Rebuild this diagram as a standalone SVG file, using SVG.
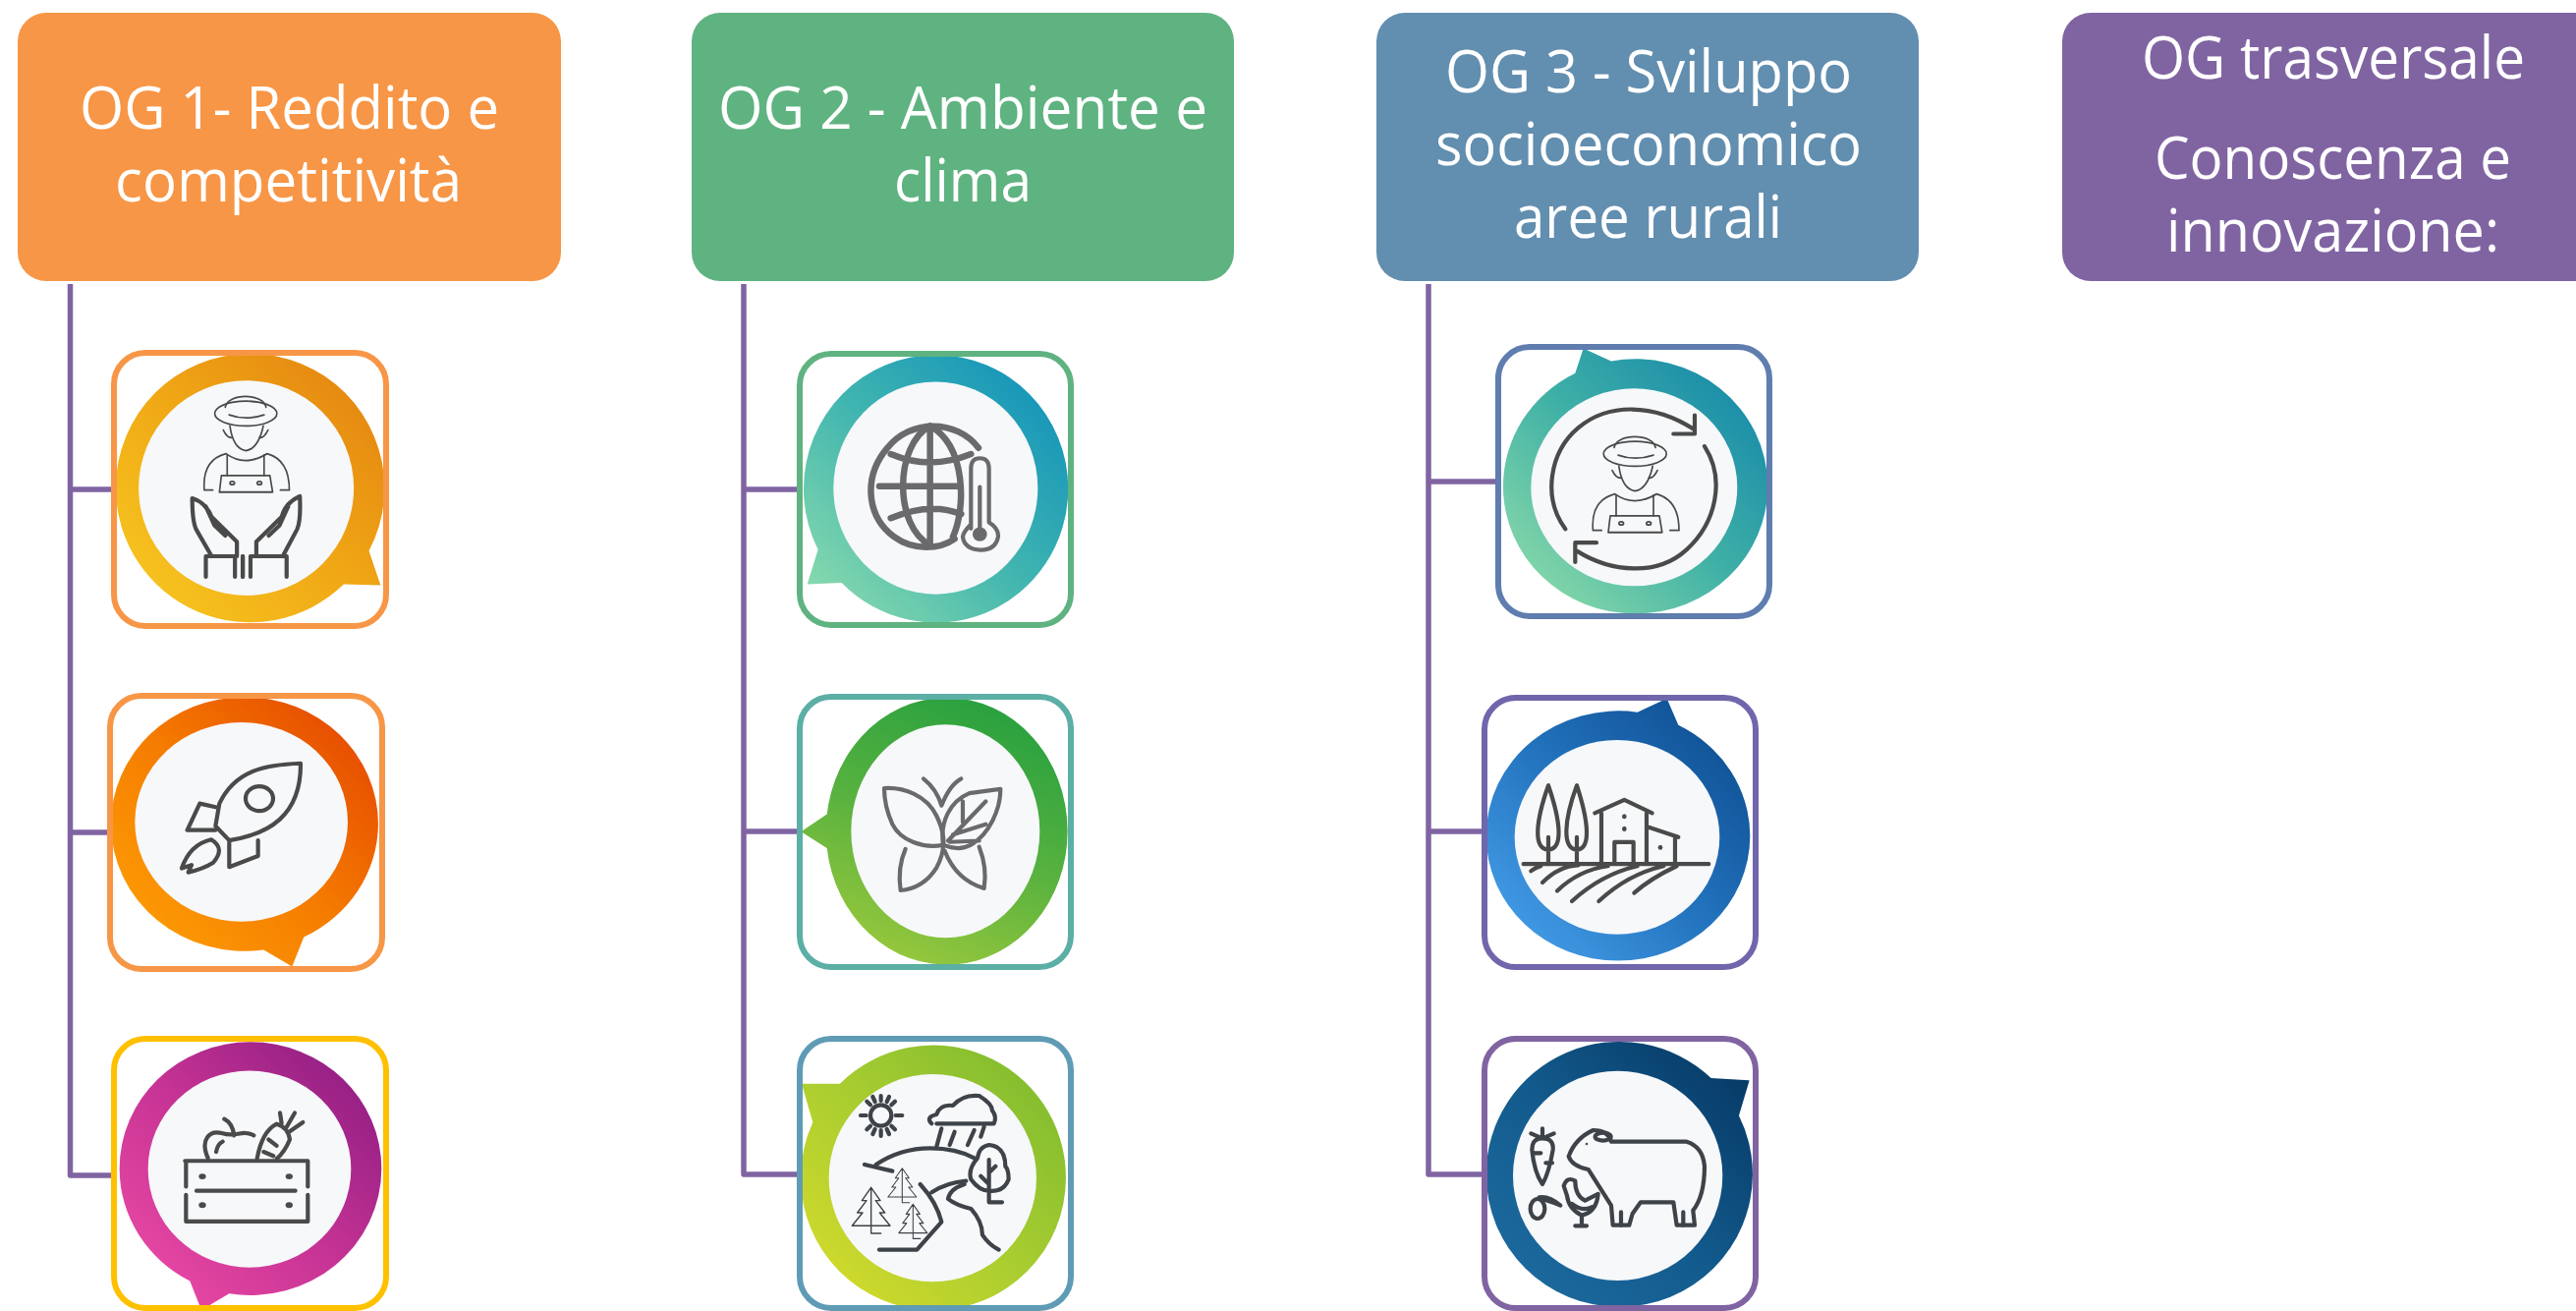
<svg xmlns="http://www.w3.org/2000/svg" width="2622" height="1334" viewBox="0 0 2622 1334">
<style>
.hd{font-family:"Open Sans","Noto Sans","Liberation Sans",sans-serif;font-size:60px;fill:#fff;font-weight:400}
.card{fill:#fff;stroke:none}
.frame{fill:none;stroke-width:6}
.in{fill:#f7f8fa}
.ic *{fill:none;stroke:#4a4a4a;stroke-width:4.2;stroke-linecap:round;stroke-linejoin:round;vector-effect:non-scaling-stroke}
.ic .d{fill:#4a4a4a;stroke:none}
.globe *{stroke:#6a6a6c;stroke-width:6.5}
.globe .thin{stroke-width:4.2}
.dark *{stroke:#3d4348}
.ic .g{stroke:#6a6a6c}
#connectors path{fill:none;stroke:#8064a2;stroke-width:5.5;stroke-linejoin:round}
</style>
<defs>
<linearGradient id="g1" x1="0" y1="1" x2="1" y2="0"><stop offset="0" stop-color="#f8cb22"/><stop offset=".5" stop-color="#f0a815"/><stop offset="1" stop-color="#e27f10"/></linearGradient>
<linearGradient id="g2" x1="0" y1="1" x2="1" y2="0"><stop offset="0" stop-color="#ffa506"/><stop offset=".5" stop-color="#f57c00"/><stop offset="1" stop-color="#e23f00"/></linearGradient>
<linearGradient id="g3" x1="0" y1="1" x2="1" y2="0"><stop offset="0" stop-color="#f24ea8"/><stop offset=".5" stop-color="#c63394"/><stop offset="1" stop-color="#861a80"/></linearGradient>
<linearGradient id="g4" x1="0" y1="1" x2="1" y2="0"><stop offset="0" stop-color="#93e0ac"/><stop offset=".5" stop-color="#3fb4b0"/><stop offset="1" stop-color="#0a8cbd"/></linearGradient>
<linearGradient id="g5" x1=".3" y1="1" x2=".7" y2="0"><stop offset="0" stop-color="#9cc93c"/><stop offset=".5" stop-color="#58b23f"/><stop offset="1" stop-color="#27a03f"/></linearGradient>
<linearGradient id="g6" x1="0" y1="1" x2="1" y2="0"><stop offset="0" stop-color="#dcdd2a"/><stop offset=".5" stop-color="#a8cd30"/><stop offset="1" stop-color="#78b82f"/></linearGradient>
<linearGradient id="g7" x1="0" y1="1" x2="1" y2="0"><stop offset="0" stop-color="#98e2aa"/><stop offset=".5" stop-color="#3fb0a6"/><stop offset="1" stop-color="#0d80ab"/></linearGradient>
<linearGradient id="g8" x1="0" y1="1" x2="1" y2="0"><stop offset="0" stop-color="#4ca6f0"/><stop offset=".5" stop-color="#2272bd"/><stop offset="1" stop-color="#0a4788"/></linearGradient>
<linearGradient id="g9" x1="0" y1="1" x2="1" y2="0"><stop offset="0" stop-color="#1f6ea3"/><stop offset=".5" stop-color="#125a8c"/><stop offset="1" stop-color="#053560"/></linearGradient>
<g id="farmer">
<path d="M580,985C585,950 680,950 685,985"/>
<ellipse cx="633" cy="1000" rx="80" ry="30"/>
<path d="M590,1003Q633,1018 680,1003"/>
<path d="M592,1030Q600,1085 633,1090Q665,1085 678,1030"/>
<path d="M575,1040Q585,1060 598,1058M690,1040Q680,1060 668,1058"/>
<path d="M526,1185Q520,1112 582,1097Q630,1130 688,1097Q745,1112 745,1185M526,1185H548M722,1185H745"/>
<path d="M585,1100V1150M680,1100V1150"/>
<path d="M565,1190L570,1150H695L702,1190Z"/>
<ellipse class="d" cx="598" cy="1168" rx="6" ry="4"/><ellipse class="d" cx="668" cy="1168" rx="6" ry="4"/>
</g>
<path id="pine" d="M0,-65L-28,-25H-14L-42,12H-26L-58,52H58L26,12H42L14,-25H28ZM0,-65V52M0,52V75H30"/>
</defs>

<g id="connectors">
<path d="M71.5,289V1196H113M71.5,498H113M71.5,847H109"/>
<path d="M757,289V1195H811M757,498H811M757,846H811"/>
<path d="M1454,289V1195H1508M1454,490H1522M1454,846H1508"/>
</g>

<g id="og1"><rect x="18" y="13" width="553" height="273" rx="29" fill="#f79646"/>
<text class="hd" x="81" y="131" textLength="427" lengthAdjust="spacingAndGlyphs">OG 1- Reddito e</text>
<text class="hd" x="117" y="205" textLength="353" lengthAdjust="spacingAndGlyphs">competitività</text></g>
<g id="og2"><rect x="704" y="13" width="552" height="273" rx="29" fill="#5fb380"/>
<text class="hd" x="731" y="131" textLength="498" lengthAdjust="spacingAndGlyphs">OG 2 - Ambiente e</text>
<text class="hd" x="910" y="205" textLength="140" lengthAdjust="spacingAndGlyphs">clima</text></g>
<g id="og3"><rect x="1401" y="13" width="552" height="273" rx="29" fill="#628eaf"/>
<text class="hd" x="1471" y="94" textLength="414" lengthAdjust="spacingAndGlyphs">OG 3 - Sviluppo</text>
<text class="hd" x="1461" y="168" textLength="434" lengthAdjust="spacingAndGlyphs">socioeconomico</text>
<text class="hd" x="1541" y="242" textLength="273" lengthAdjust="spacingAndGlyphs">aree rurali</text></g>
<g id="ogt"><rect x="2099" y="13" width="560" height="273" rx="29" fill="#8064a2"/>
<text class="hd" x="2180" y="80" textLength="390" lengthAdjust="spacingAndGlyphs">OG trasversale</text>
<text class="hd" x="2193" y="182" textLength="363" lengthAdjust="spacingAndGlyphs">Conoscenza e</text>
<text class="hd" x="2205" y="256" textLength="339" lengthAdjust="spacingAndGlyphs">innovazione:</text></g>

<g id="n1"><rect class="card" x="116" y="359" width="277" height="278" rx="32"/>
<g transform="scale(.3953,.4208)">
<path fill="url(#g1)" d="M885,1413A346,325 0 0 1 298,1180A346,325 0 0 1 990,1180A346,325 0 0 1 950,1332L980,1415Z"/><ellipse class="in" cx="634" cy="1180" rx="277" ry="260"/>
<g class="ic"><use href="#farmer"/>
<path d="M530,1395V1345H605V1395M625,1395V1345M545,1345L505,1280Q495,1260 495,1205Q530,1215 545,1250L610,1310V1345M530,1225L552,1270L580,1295"/>
<path d="M738,1395V1345H645V1395M625,1395V1345M728,1345L765,1280Q775,1260 772,1200Q735,1215 725,1250L660,1310V1345M742,1225L720,1270L692,1295"/></g></g>
<rect class="frame" stroke="#f79646" x="116" y="359" width="277" height="278" rx="32"/></g>

<g id="n2"><rect class="card" x="112" y="708" width="277" height="278" rx="32"/>
<g transform="translate(60,680) scale(.3333,.417)">
<path fill="url(#g2)" d="M625,687A408,310 0 0 1 159,380A408,310 0 0 1 975,380A408,310 0 0 1 748,656L712,728Z"/><ellipse class="in" cx="557" cy="375" rx="325" ry="243"/>
<g class="ic"><path d="M738,232C640,235 540,245 490,330L478,385L520,420C640,405 740,360 738,232Z"/><ellipse cx="612" cy="318" rx="42" ry="30"/>
<path d="M485,340L430,330L392,395H478M520,425V485L608,458V420M375,488Q400,430 465,418Q510,440 470,475Q440,490 395,498L405,480Z"/></g></g>
<rect class="frame" stroke="#f79646" x="112" y="708" width="277" height="278" rx="32"/></g>

<g id="n3"><rect class="card" x="116" y="1057" width="277" height="274" rx="32"/>
<g transform="translate(60,680) scale(.3333,.417)">
<path fill="url(#g3)" d="M520,1526A400,309 0 0 0 985,1221A400,309 0 0 0 185,1221A400,309 0 0 0 400,1495L435,1566Z"/><ellipse class="in" cx="582" cy="1222" rx="310" ry="240"/>
<g class="ic"><path d="M385,1202H760M388,1202V1265M388,1285V1350H760V1285M760,1265V1202M420,1275H722"/>
<ellipse class="d" cx="438" cy="1240" rx="11" ry="7"/><ellipse class="d" cx="703" cy="1240" rx="11" ry="7"/><ellipse class="d" cx="438" cy="1310" rx="11" ry="7"/><ellipse class="d" cx="703" cy="1310" rx="11" ry="7"/>
<path d="M455,1195C430,1150 460,1125 500,1135C540,1145 560,1125 595,1140M505,1100Q530,1110 535,1140M480,1180Q485,1160 500,1155"/>
<path d="M605,1197Q620,1130 665,1112Q700,1120 705,1150Q690,1180 665,1197M680,1110L675,1085M695,1120L720,1085M705,1130L745,1108M640,1150L665,1165M625,1180L655,1190"/></g></g>
<rect class="frame" stroke="#ffc000" x="116" y="1057" width="277" height="274" rx="32"/></g>

<g id="n4"><rect class="card" x="814" y="360" width="276" height="276" rx="32"/>
<g transform="translate(740,340) scale(.3333,.4208)">
<path fill="url(#g4)" d="M350,601A404,324 0 0 0 1042,374A404,324 0 0 0 234,374A404,324 0 0 0 278,521L245,605Z"/><ellipse class="in" cx="637" cy="372" rx="312" ry="257"/>
<g class="ic globe"><path d="M768,275C700,205 560,205 490,275C415,345 425,440 510,490C570,525 650,520 695,495"/>
<path d="M620,222V510M465,368H705M500,290Q620,330 745,290M500,445Q620,405 715,435M620,222C510,270 510,465 620,510M620,222C730,270 730,420 690,490"/>
<path class="thin" d="M745,470V325Q745,300 772,300Q800,300 800,325V455Q830,470 828,490Q820,522 775,522Q725,520 720,490Q722,478 745,460"/>
<path class="thin" d="M772,370V470"/><ellipse class="d" cx="772" cy="484" rx="22" ry="17" style="fill:#6a6a6c"/></g></g>
<rect class="frame" stroke="#5fb380" x="814" y="360" width="276" height="276" rx="32"/></g>

<g id="n5"><rect class="card" x="814" y="709" width="276" height="275" rx="32"/>
<g transform="translate(740,340) scale(.3333,.4208)">
<path fill="url(#g5)" d="M305,1243A369,323 0 0 0 1040,1202A369,323 0 0 0 302,1202A369,323 0 0 0 305,1161L226,1203Z"/><ellipse class="in" cx="667" cy="1202" rx="288" ry="258"/>
<g class="ic"><path class="g" d="M660,1235C600,1245 530,1225 505,1185C485,1150 480,1120 480,1098C540,1095 610,1115 640,1165C665,1205 662,1235 660,1235Z"/>
<path class="g" d="M660,1235C650,1180 680,1130 740,1110L835,1100C835,1150 800,1210 745,1235C710,1250 675,1240 660,1235ZM675,1225L790,1130M720,1180V1130M690,1210L790,1185M680,1228L770,1225"/>
<path class="g" d="M545,1245Q520,1290 530,1345Q600,1340 640,1290Q660,1260 660,1235M665,1250Q700,1320 785,1340Q795,1290 770,1240"/>
<path class="g" d="M600,1075Q640,1100 655,1140Q680,1090 715,1075"/></g></g>
<rect class="frame" stroke="#5bafa5" x="814" y="709" width="276" height="275" rx="32"/></g>

<g id="n6"><rect class="card" x="814" y="1057" width="276" height="274" rx="32"/>
<g transform="translate(740,1030) scale(.3333)">
<path fill="url(#g6)" d="M345,218A405,405 0 0 1 1035,505A405,405 0 0 1 225,505A405,405 0 0 1 262,336L228,218Z"/><circle class="in" cx="628" cy="506" r="317"/>
<g class="ic dark"><circle cx="470" cy="315" r="32"/>
<path d="M470,255V270M470,360V378M408,315H425M515,315H535M427,272L438,283M502,347L513,358M513,272L502,283M438,347L427,358M445,258L452,273M495,258L488,273M445,372L452,357M495,372L488,357"/>
<path d="M625,340Q605,320 640,312Q650,280 690,285Q720,250 770,255Q810,280 810,300Q825,320 815,340H640M640,410L655,355M680,405L695,365M735,405L755,360M775,380L785,350"/>
<path d="M420,465L505,485M455,465Q530,415 620,415Q700,415 755,445"/>
<path d="M800,405Q770,410 765,445Q735,480 745,510Q770,545 800,545Q845,550 860,510Q860,480 850,470Q850,410 800,405ZM800,450V580H840M800,490L820,470M800,525L775,500"/>
<use href="#pine" transform="translate(440,600)"/><use href="#pine" transform="translate(535,525) scale(.75)"/><use href="#pine" transform="translate(568,635) scale(.75)"/>
<path d="M725,525Q680,540 675,570Q700,590 745,600Q780,640 780,680Q800,710 830,725M465,725H580L655,640Q640,580 590,525M625,550Q670,520 730,515"/></g></g>
<rect class="frame" stroke="#5f9bb5" x="814" y="1057" width="276" height="274" rx="32"/></g>

<g id="n7"><rect class="card" x="1525" y="353" width="276" height="274" rx="32"/>
<g transform="translate(1440,330) scale(.3333,.4208)">
<path fill="url(#g7)" d="M600,89A404,308 0 0 1 1078,392A404,308 0 0 1 270,392A404,308 0 0 1 490,118L515,58Z"/><ellipse class="in" cx="670" cy="394" rx="315" ry="239"/>
<g class="ic"><path d="M885,295C950,375 920,480 830,545C740,610 600,600 495,548M460,495C390,420 410,310 500,250C590,190 730,190 855,255M790,265H855V220M490,575V528H555"/></g></g>
<g class="ic"><use href="#farmer" transform="translate(1411,41) scale(.4,.4208)"/></g>
<rect class="frame" stroke="#5f7dae" x="1525" y="353" width="276" height="274" rx="32"/></g>

<g id="n8"><rect class="card" x="1511" y="710" width="276" height="274" rx="32"/>
<g transform="translate(1440,330) scale(.3333,.4208)">
<path fill="url(#g8)" d="M805,969A403,302 0 0 1 1024,1237A403,302 0 0 1 218,1237A403,302 0 0 1 680,938L770,905Z"/><ellipse class="in" cx="618" cy="1240" rx="313" ry="235"/>
<g class="ic"><path d="M332,1305H898M355,1322Q365,1315 385,1310M390,1350Q440,1310 500,1308M435,1370Q500,1320 590,1310M480,1395Q570,1330 680,1310M562,1395Q650,1330 760,1310M670,1375Q720,1340 800,1310"/>
<path d="M408,1115C370,1200 360,1270 408,1270C455,1270 445,1200 408,1115ZM408,1240V1305M495,1115C455,1200 450,1270 495,1270C540,1270 530,1200 495,1115ZM495,1240V1305"/>
<path d="M550,1182L640,1150L725,1182M570,1182V1300M708,1182V1300M610,1300V1252H668V1300M710,1215L805,1240M795,1240V1300"/>
<ellipse class="d" cx="640" cy="1190" rx="7" ry="6"/><ellipse class="d" cx="640" cy="1220" rx="7" ry="6"/><ellipse class="d" cx="750" cy="1265" rx="7" ry="6"/></g></g>
<rect class="frame" stroke="#7066ac" x="1511" y="710" width="276" height="274" rx="32"/></g>

<g id="n9"><rect class="card" x="1511" y="1057" width="276" height="274" rx="32"/>
<g transform="translate(1440,1030) scale(.3333)">
<path fill="url(#g9)" d="M990,316A407,405 0 0 1 1032,495A407,405 0 0 1 218,495A407,405 0 0 1 905,201L1022,208Z"/><circle class="in" cx="620" cy="499" r="320"/>
<g class="ic dark"><path d="M470,440Q490,385 545,360Q590,360 600,395H830Q880,410 885,470Q885,560 850,605L855,650H800L790,580H690L665,615L655,650H605L600,590L530,480Q480,470 470,440Z"/>
<ellipse cx="575" cy="380" rx="24" ry="12"/><path d="M630,610V650M820,610V650"/><ellipse class="d" cx="525" cy="402" rx="4" ry="4"/>
<path d="M360,405Q365,385 390,385Q425,385 422,420Q410,490 390,525Q365,490 358,420ZM390,385V355M355,370L390,385L425,370M365,430H385M400,460H420"/>
<ellipse cx="375" cy="600" rx="22" ry="30"/><path d="M380,565Q410,560 445,590Q410,575 385,570"/>
<path d="M455,530Q465,500 490,515Q490,560 520,575L560,555Q555,610 510,620Q470,600 465,560ZM510,620V650M490,652H525M480,585Q510,610 540,595"/></g></g>
<rect class="frame" stroke="#8064a2" x="1511" y="1057" width="276" height="274" rx="32"/></g>
</svg>
